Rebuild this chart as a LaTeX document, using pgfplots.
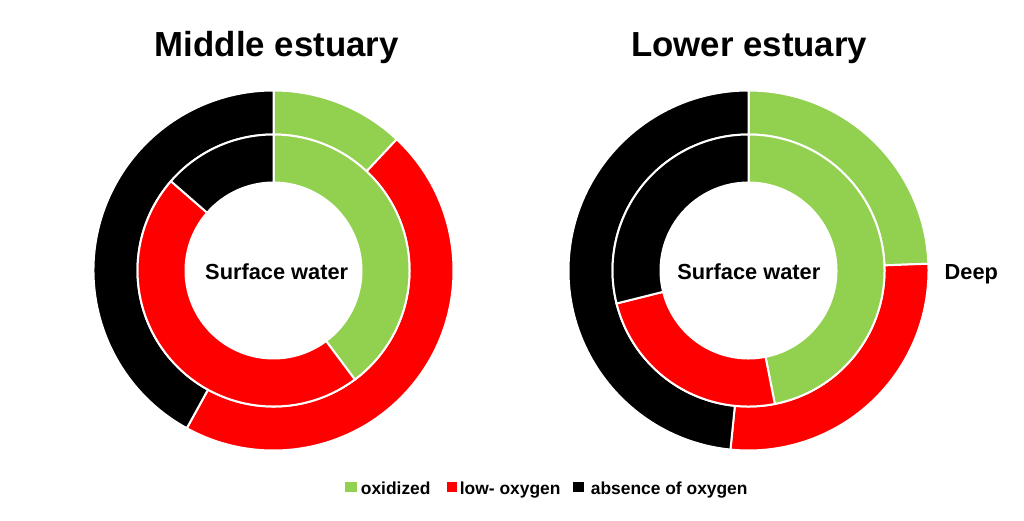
\documentclass[border=0pt]{standalone}
\usepackage{pgfplots}
\pgfplotsset{compat=1.18}
\usepackage{pgfplotstable}
\usepackage{fontspec}
\setmainfont{Liberation Sans}
\definecolor{oxgreen}{HTML}{92D050}
\definecolor{lowred}{HTML}{FF0000}

% shares in percent, clockwise from 12 o'clock: oxidized, low-oxygen, absence of oxygen
\pgfplotstableread{
ring     oxidized lowoxygen absence
surface  39.8     46.6      13.6
deep     12.0     46.0      42.0
}\middletable
\pgfplotstableread{
ring     oxidized lowoxygen absence
surface  46.9     24.2      28.9
deep     24.4     27.2      48.4
}\lowertable

\newcommand{\sector}[5]{%
  \fill[#5, draw=white, line width=2pt, line join=miter]
    (axis cs:{#2*cos(#3)},{#2*sin(#3)}) arc[start angle=#3, end angle=#4, radius=#2pt]
    -- (axis cs:{#1*cos(#4)},{#1*sin(#4)}) arc[start angle=#4, end angle=#3, radius=#1pt] -- cycle;}

\newcommand{\drawring}[4]{%
  \pgfplotstablegetelem{#2}{oxidized}\of#1\let\vA\pgfplotsretval
  \pgfplotstablegetelem{#2}{lowoxygen}\of#1\let\vB\pgfplotsretval
  \pgfmathsetmacro\aA{90-3.6*\vA}%
  \pgfmathsetmacro\aB{\aA-3.6*\vB}%
  \sector{#3}{#4}{90}{\aA}{oxgreen}%
  \sector{#3}{#4}{\aA}{\aB}{lowred}%
  \sector{#3}{#4}{\aB}{-270}{black}%
}

\pgfplotsset{donut/.style={hide axis, x=1pt, y=1pt, xmin=-200, xmax=200,
  ymin=-200, ymax=200, anchor=center, clip=false}}

\begin{document}
\begin{tikzpicture}
\useasboundingbox (0,0) rectangle (1024pt,520pt);
\fill[white] (0,0) rectangle (1024pt,520pt);

\begin{axis}[donut, at={(273.5pt,249.5pt)}]
  \pgfplotsextra{%
    \drawring{\middletable}{1}{136}{180}%
    \drawring{\middletable}{0}{88}{136}%
  }
\end{axis}

\begin{axis}[donut, at={(748.5pt,249.5pt)}]
  \pgfplotsextra{%
    \drawring{\lowertable}{1}{136}{180}%
    \drawring{\lowertable}{0}{88}{136}%
  }
\end{axis}

% titles
\node[anchor=base, inner sep=0pt, font=\fontsize{34.8pt}{40pt}\selectfont\bfseries] at (276.7pt,463.3pt) {Middle estuary};
\node[anchor=base, inner sep=0pt, font=\fontsize{34.8pt}{40pt}\selectfont\bfseries] at (749.2pt,463.3pt) {Lower estuary};

% ring labels
\node[anchor=base, inner sep=0pt, font=\fontsize{21.8pt}{25pt}\selectfont\bfseries] at (276.7pt,240.7pt) {Surface water};
\node[anchor=base, inner sep=0pt, font=\fontsize{21.8pt}{25pt}\selectfont\bfseries] at (748.8pt,240.7pt) {Surface water};
\node[anchor=base west, inner sep=0pt, font=\fontsize{21.8pt}{25pt}\selectfont\bfseries] at (944.5pt,240.7pt) {Deep};

% legend
\fill[oxgreen] (345pt,28.3pt) rectangle (356.7pt,38.3pt);
\fill[lowred] (446.7pt,28.3pt) rectangle (457.3pt,38.3pt);
\fill[black] (573.3pt,28.3pt) rectangle (584pt,38.3pt);
\node[anchor=base west, inner sep=0pt, font=\fontsize{17.4pt}{20pt}\selectfont\bfseries] at (360.7pt,25.7pt) {oxidized};
\node[anchor=base west, inner sep=0pt, font=\fontsize{17.4pt}{20pt}\selectfont\bfseries] at (459.7pt,25.7pt) {low- oxygen};
\node[anchor=base west, inner sep=0pt, font=\fontsize{17.4pt}{20pt}\selectfont\bfseries] at (590.7pt,25.7pt) {absence of oxygen};
\end{tikzpicture}
\end{document}
